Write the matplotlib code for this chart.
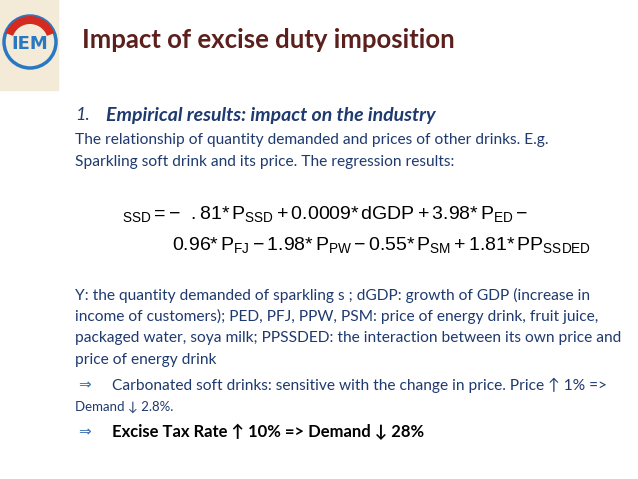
import matplotlib
matplotlib.use("Agg")
import matplotlib.pyplot as plt
from matplotlib.patches import Rectangle, Wedge, Circle

W, H = 638, 479
BROWN = "#5b1f1c"
NAVY = "#1f3a6e"
FONT = "Lato"

TITLE = "Impact of excise duty imposition"
SECTION_NUM = "1."
SECTION = "Empirical results: impact on the industry"
INTRO = ["The relationship of quantity demanded and prices of other drinks. E.g.",
         "Sparkling soft drink and its price. The regression results:"]
EQ_1 = r"$_{\mathrm{SSD}}=-\ \ .81{*}\,P_{\mathrm{SSD}}+0.0009{*}\,dGDP+3.98{*}\,P_{\mathrm{ED}}-$"
EQ_2 = r"$0.96{*}\,P_{\mathrm{FJ}}-1.98{*}\,P_{\mathrm{PW}}-0.55{*}\,P_{\mathrm{SM}}+1.81{*}\,PP_{\mathrm{SSDED}}$"
DEFS = ["Y: the quantity demanded of sparkling s ; dGDP: growth of GDP (increase in",
        "income of customers); PED, PFJ, PPW, PSM: price of energy drink, fruit juice,",
        "packaged water, soya milk; PPSSDED: the interaction between its own price and",
        "price of energy drink"]
BULLET_1 = ["Carbonated soft drinks: sensitive with the change in price. Price \u2191 1% =>",
            "Demand \u2193 2.8%."]
BULLET_2 = "Excise Tax Rate \u2191 10% => Demand \u2193 28%"


def fy(y):
    return 1 - y / H


def fx(x):
    return x / W


fig = plt.figure(figsize=(6.38, 4.79), dpi=100)
fig.patch.set_facecolor("white")

# logo block
fig.add_artist(Rectangle((0, fy(90)), fx(58), fy(0) - fy(90), transform=fig.transFigure,
                         color="#f3ead8", zorder=0))
lax = fig.add_axes([0, fy(80), fx(58), fy(0) - fy(80)])
lax.set_xlim(0, 58); lax.set_ylim(80, 0); lax.axis("off")
lax.add_patch(Circle((30, 42), 26, fill=False, lw=2.5, ec="#2a78c2"))
lax.add_patch(Wedge((30, 42), 26, 200, 340, fc="#d42a1f", ec="none", width=8))
lax.text(30, 44, "IEM", ha="center", va="center", fontsize=13, fontweight="bold",
         color="#2a78c2", family="DejaVu Sans")

fig.text(fx(82), fy(40), TITLE, fontsize=18.5, fontweight="bold", color=BROWN,
         family=FONT, va="center")

fig.text(fx(75), fy(115), SECTION_NUM, fontsize=13, style="italic",
         color=NAVY, family=FONT, va="center")
fig.text(fx(106), fy(115), SECTION, fontsize=14, fontweight="bold", style="italic",
         color=NAVY, family=FONT, va="center")

for i, line in enumerate(INTRO):
    fig.text(fx(75), fy(140 + 22 * i), line, fontsize=11.2, color=NAVY, family=FONT, va="center")

plt.rcParams["mathtext.fontset"] = "custom"
plt.rcParams["mathtext.rm"] = "Liberation Sans"
plt.rcParams["mathtext.it"] = "Liberation Sans"
fig.text(fx(122), fy(214), EQ_1, fontsize=14, color="black", va="center")
fig.text(fx(172), fy(245), EQ_2, fontsize=14, color="black", va="center")

for i, line in enumerate(DEFS):
    fig.text(fx(75), fy(295 + 21.7 * i), line, fontsize=11.2, color=NAVY, family=FONT, va="center")

fig.text(fx(78), fy(385), "\u21d2", fontsize=11, color="#3a6fb0", family="DejaVu Sans", va="center")
fig.text(fx(112), fy(385), BULLET_1[0], fontsize=11.2, color=NAVY, family=FONT, va="center")
fig.text(fx(75), fy(407), BULLET_1[1], fontsize=9.5, color=NAVY, family=FONT, va="center")

fig.text(fx(78), fy(432), "\u21d2", fontsize=11, color="#3a6fb0", family="DejaVu Sans", va="center")
fig.text(fx(112), fy(432), BULLET_2, fontsize=12, fontweight="bold", color="black",
         family=FONT, va="center")

fig.savefig("out.png", dpi=100)
